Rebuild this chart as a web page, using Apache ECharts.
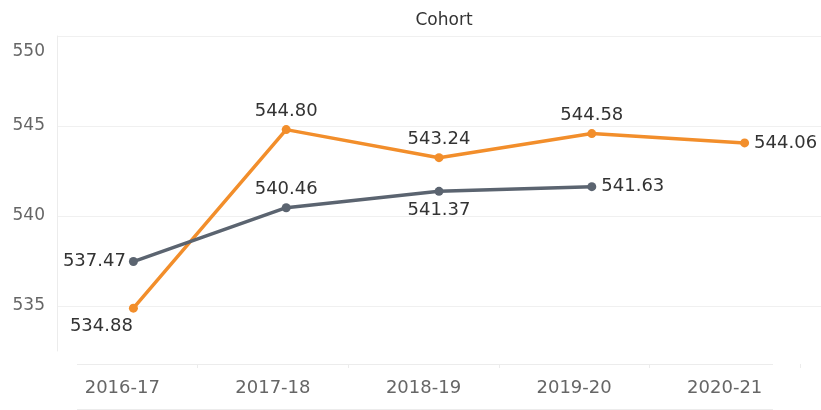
<!DOCTYPE html>
<html>
<head>
<meta charset="utf-8">
<script src="https://cdn.jsdelivr.net/npm/echarts@6/dist/echarts.min.js"></script>
<style>
  html, body { margin: 0; padding: 0; background: #fff; }
  #chart { width: 821px; height: 410px; }
</style>
</head>
<body>
<div id="chart"></div>
<script>
const years = ['2016-17', '2017-18', '2018-19', '2019-20', '2020-21']
const grayValues = [537.47, 540.46, 541.37, 541.63, null]
const orangeValues = [534.88, 544.80, 543.24, 544.58, 544.06]
const grayLabelPos = ['left', 'top', 'bottom', 'right', 'top']
const orangeLabelPos = ['bottom', 'top', 'top', 'top', 'right']

const FONT = 'DejaVu Sans'
const GRAY = '#5b6470'
const ORANGE = '#f28e2b'
const RULE = '#ececec'

function withLabels(values, positions, offsets) {
  return values.map((v, i) => ({
    value: v,
    label: { position: positions[i], offset: offsets[i] || [0, 0] }
  }))
}

const chart = echarts.init(document.getElementById('chart'))

chart.setOption({
  animation: false,
  textStyle: { fontFamily: FONT },
  title: {
    text: 'Cohort', left: 439, top: 7, textAlign: 'center',
    textStyle: { fontSize: 17, fontWeight: 'normal', color: '#333', fontFamily: FONT }
  },
  grid: [
    { left: 57, right: 0, top: 36, bottom: 59 },
    // header strip under the plot, slightly narrower than the pane (as in the source)
    { left: 47, right: 21, top: 360, bottom: 46 }
  ],
  xAxis: [
    {
      type: 'category', data: years, gridIndex: 0,
      axisLine: { show: false }, axisTick: { show: false }, axisLabel: { show: false }
    },
    {
      type: 'category', data: years, gridIndex: 1,
      axisLine: { show: false },
      axisTick: { show: true, length: 4, interval: i => i > 0, lineStyle: { color: RULE } },
      axisLabel: { fontSize: 18, color: '#666', margin: 15, fontFamily: FONT }
    }
  ],
  yAxis: [
    {
      // ticks every 2.5 so min can sit at 532.5; only the multiples of 5 are drawn
      type: 'value', min: 532.5, max: 550, interval: 2.5, gridIndex: 0,
      axisLine: { show: true, lineStyle: { color: RULE } },
      axisTick: { show: false },
      splitLine: { lineStyle: { color: ['rgba(0,0,0,0)', '#f0f0f0'] } },
      axisLabel: {
        fontSize: 17, color: '#666', margin: 12, fontFamily: FONT,
        formatter: v => (v === 550 ? '{t|550}' : (v % 5 === 0 ? '{n|' + v + '}' : '')),
        rich: {
          t: { fontSize: 17, color: '#666', fontFamily: FONT, padding: [32, 0, 0, 0] },
          n: { fontSize: 17, color: '#666', fontFamily: FONT }
        }
      }
    },
    { type: 'value', gridIndex: 1, show: false }
  ],
  graphic: [
    { type: 'line', shape: { x1: 77, y1: 364.5, x2: 773, y2: 364.5 }, style: { stroke: RULE, lineWidth: 1 } },
    { type: 'line', shape: { x1: 77, y1: 409.5, x2: 773, y2: 409.5 }, style: { stroke: RULE, lineWidth: 1 } }
  ],
  series: [
    {
      name: 'Gray', type: 'line',
      data: withLabels(grayValues, grayLabelPos, [[2, 0]]),
      color: GRAY,
      lineStyle: { width: 3.5, color: GRAY },
      symbol: 'circle', symbolSize: 9,
      label: { show: true, fontSize: 18, color: '#333', fontFamily: FONT, distance: 5, formatter: p => p.value.toFixed(2) },
      z: 3
    },
    {
      name: 'Orange', type: 'line',
      data: withLabels(orangeValues, orangeLabelPos, [[-32, 0]]),
      color: ORANGE,
      lineStyle: { width: 3.5, color: ORANGE },
      symbol: 'circle', symbolSize: 9,
      label: { show: true, fontSize: 18, color: '#333', fontFamily: FONT, distance: 5, formatter: p => p.value.toFixed(2) },
      z: 2
    }
  ]
})
</script>
</body>
</html>
